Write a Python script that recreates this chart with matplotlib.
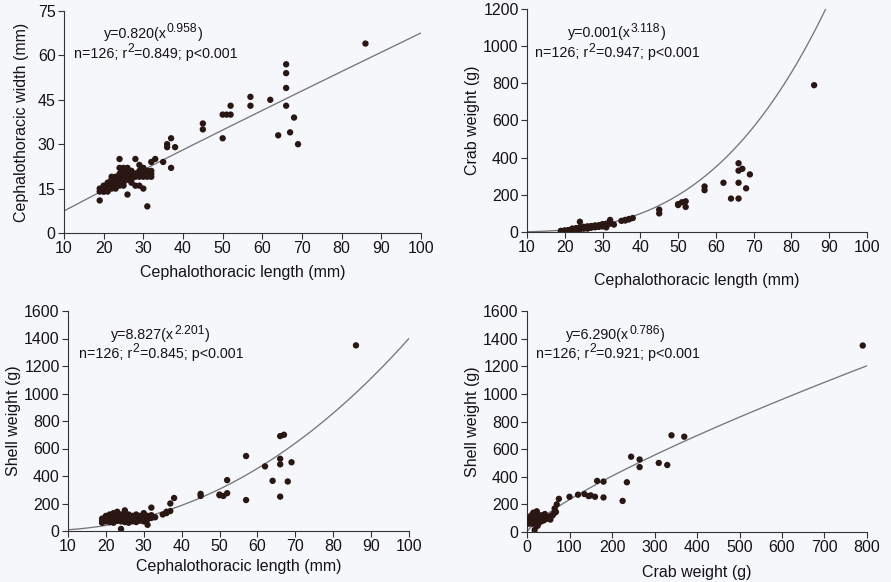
import numpy as np
import matplotlib
matplotlib.use("Agg")
import matplotlib.pyplot as plt

plt.rcParams['font.family'] = ['Liberation Sans', 'DejaVu Sans']

# ---- data: one entry per specimen ----
length_mm = [19, 19, 19, 20, 20, 20, 20, 21, 21, 21, 21, 21, 22, 22, 22, 22, 22, 22,
             23, 23, 23, 23, 23, 23, 24, 24, 24, 24, 24, 24, 24, 25, 25, 25, 25, 25, 25, 25,
             26, 26, 26, 26, 26, 26, 27, 27, 27, 27, 28, 28, 28, 28, 29, 29, 29, 29,
             30, 30, 30, 30, 30, 31, 31, 31, 31, 32, 32, 32, 32,
             20, 21, 22, 23, 24, 25, 22, 23, 24, 25, 26, 27, 28, 29, 30, 31, 33,
             20, 21, 22, 23, 24, 25, 26, 27, 28, 29, 30,
             35, 36, 36, 37, 37, 38, 45, 45, 50, 50, 51, 52, 52, 57, 57,
             62, 64, 66, 66, 66, 66, 67, 68, 69, 86]
width_mm = [11, 14, 15, 14, 15, 16, 15, 14, 15, 16, 17, 15, 15, 16, 17, 18, 19, 16,
            15, 16, 17, 18, 19, 17, 16, 17, 18, 19, 20, 22, 25, 16, 17, 18, 19, 20, 21, 22,
            13, 18, 19, 20, 21, 22, 17, 19, 20, 21, 16, 19, 20, 25, 16, 20, 21, 23,
            15, 19, 20, 21, 22, 9, 19, 20, 21, 19, 20, 21, 24,
            14, 16, 17, 18, 19, 20, 18, 16, 17, 18, 19, 20, 20, 20, 20, 20, 25,
            15, 15, 16, 17, 18, 19, 20, 18, 20, 19, 21,
            24, 30, 29, 32, 22, 29, 37, 35, 32, 40, 40, 40, 43, 46, 43,
            45, 33, 57, 54, 49, 43, 34, 39, 30, 64]
crab_weight_g = [3, 5, 6, 5, 7, 6, 8, 7, 9, 8, 10, 6, 15, 16, 14, 17, 18, 12,
                 16, 18, 17, 19, 20, 15, 18, 20, 22, 21, 23, 25, 55, 20, 22, 24, 23, 26, 25, 28,
                 18, 24, 26, 28, 27, 30, 25, 28, 30, 32, 26, 30, 33, 35, 28, 32, 35, 36,
                 30, 35, 38, 40, 42, 25, 40, 42, 45, 45, 50, 55, 65,
                 4, 6, 9, 14, 17, 19, 15, 12, 16, 21, 22, 24, 27, 30, 33, 36, 40,
                 4, 6, 14, 16, 19, 21, 23, 26, 29, 31, 36,
                 60, 62, 65, 70, 68, 75, 120, 100, 150, 145, 160, 165, 135, 245, 225,
                 265, 180, 370, 330, 265, 180, 340, 235, 310, 790]
shell_weight_g = [60, 75, 90, 70, 85, 95, 110, 65, 80, 100, 120, 90, 70, 85, 95, 110, 130, 60,
                  75, 90, 100, 115, 80, 140, 15, 70, 85, 95, 105, 120, 90, 65, 80, 95, 150, 110, 130, 100,
                  60, 75, 90, 105, 120, 85, 70, 95, 110, 80, 65, 90, 100, 120, 75, 85, 95, 110,
                  70, 80, 90, 100, 130, 45, 85, 100, 110, 95, 105, 115, 170,
                  80, 105, 90, 95, 100, 90, 80, 85, 110, 120, 100, 90, 80, 100, 110, 90, 100,
                  100, 75, 100, 110, 75, 85, 95, 85, 110, 90, 120,
                  120, 130, 140, 200, 145, 240, 270, 255, 265, 260, 255, 370, 275, 545, 225,
                  470, 365, 690, 485, 525, 250, 700, 360, 500, 1350]

# fitted power curves y = a * x**b (as drawn in each panel)
fit_a = [0.820, 0.001, 0.0555, 6.290]
fit_b = [0.958, 3.118, 2.201, 0.786]
eq_coef = ["0.820", "0.001", "8.827", "6.290"]
eq_exp = ["0.958", "3.118", "2.201", "0.786"]
r2_text = ["0.849", "0.947", "0.845", "0.921"]
x_labels = ["Cephalothoracic length (mm)", "Cephalothoracic length (mm)",
            "Cephalothoracic length (mm)", "Crab weight (g)"]
y_labels = ["Cephalothoracic width (mm)", "Crab weight (g)",
            "Shell weight (g)", "Shell weight (g)"]

W, H = 891, 582
fig = plt.figure(figsize=(W / 100, H / 100), dpi=100, facecolor='#f6f7fb')
renderer = fig.canvas.get_renderer()

def box(l, t, r, b):
    return [l / W, 1 - b / H, (r - l) / W, (b - t) / H]

TXT = '#141414'
def rich(x_px, base_px, segments, fs):
    """segments: list of (text, is_superscript); positions in pixels from top-left."""
    x = x_px
    for txt, sup in segments:
        size = fs * 0.85 if sup else fs
        yb = base_px - (5.5 if sup else 0)
        t = fig.text(x / W, 1 - yb / H, txt, fontsize=size, color=TXT, va='baseline', ha='left')
        ext = t.get_window_extent(renderer)
        x = x + ext.width + (0.5 if sup else 0)

boxes = [box(64, 11, 421, 233), box(527, 9, 867, 232),
         box(68, 311, 409, 531), box(527, 311, 867, 532)]
xlims = [(10, 100), (10, 100), (10, 100), (0, 800)]
ylims = [(0, 75), (0, 1200), (0, 1600), (0, 1600)]
xticks = [np.arange(10, 101, 10)] * 3 + [np.arange(0, 801, 100)]
yticks = [np.arange(0, 76, 15), np.arange(0, 1201, 200),
          np.arange(0, 1601, 200), np.arange(0, 1601, 200)]
xs = [length_mm, length_mm, length_mm, crab_weight_g]
ys = [width_mm, crab_weight_g, shell_weight_g, shell_weight_g]
# (eq line x, baseline y, stats line x, baseline y) in pixels
eq_pos = [(104, 38, 74, 58), (568, 37, 535, 57), (111, 339, 79, 358), (566, 339, 536, 358)]
ylab_x = [22, 472, 13, 472]
xlab_y = [273, 280, 567, 572]

dot = '#2a1714'
fs = 11.5
efs = 10.3
for i in range(4):
    ax = fig.add_axes(boxes[i])
    ax.patch.set_alpha(0)
    ax.scatter(xs[i], ys[i], s=21, color=dot, edgecolors='none', zorder=3)
    xc = np.linspace(max(xlims[i][0], 0.5), xlims[i][1], 400)
    ax.plot(xc, fit_a[i] * xc ** fit_b[i], color='#767676', lw=0.95, zorder=2)
    ax.set_xlim(*xlims[i])
    ax.set_ylim(*ylims[i])
    ax.set_xticks(xticks[i])
    ax.set_yticks(yticks[i])
    for s in ['top', 'right']:
        ax.spines[s].set_visible(False)
    for s in ['left', 'bottom']:
        ax.spines[s].set_color('#333333')
        ax.spines[s].set_linewidth(0.8)
    ax.tick_params(direction='out', length=4, width=0.8, color='#333333',
                   labelsize=fs, labelcolor=TXT, pad=2)
    ax.set_xlabel(x_labels[i], fontsize=fs, color=TXT)
    ax.set_ylabel(y_labels[i], fontsize=fs, color=TXT)
    l, b, w, h = boxes[i]
    ax.xaxis.set_label_coords(0.5, ((1 - xlab_y[i] / H) - b) / h)
    ax.yaxis.set_label_coords(((ylab_x[i] / W) - l) / w, 0.5)
    ax.xaxis.label.set_va('center')
    ax.yaxis.label.set_va('center')
    ex, ey, sx, sy = eq_pos[i]
    rich(ex, ey, [("y=" + eq_coef[i] + "(x", False), (eq_exp[i], True), (")", False)], efs)
    rich(sx, sy, [("n=126; r", False), ("2", True), ("=" + r2_text[i] + "; p<0.001", False)], efs)

fig.savefig('out.png', dpi=100, facecolor=fig.get_facecolor())
